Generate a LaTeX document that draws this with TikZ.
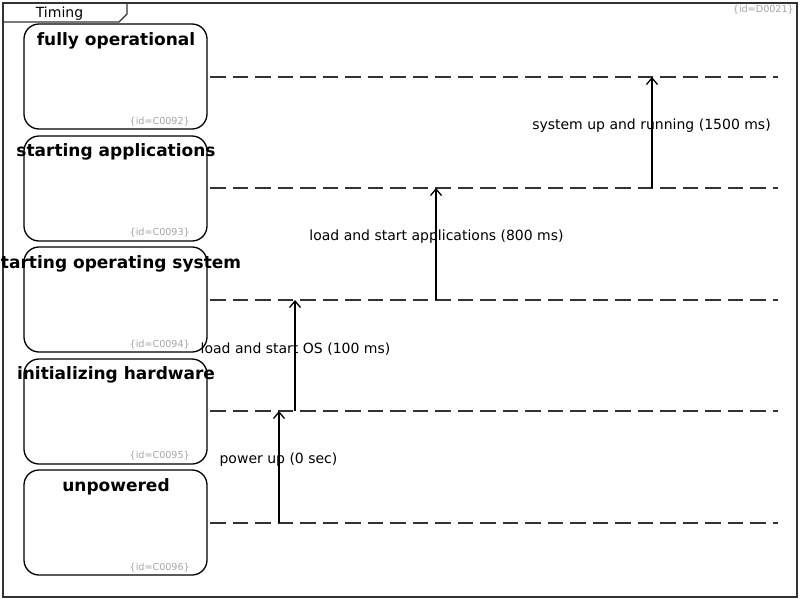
\documentclass[tikz,border=0pt]{standalone}
\usepackage{fontspec}
\setmainfont{DejaVu Sans}
\usetikzlibrary{arrows.meta}
\begin{document}
\begin{tikzpicture}[x=1pt,y=-1pt,
  frame/.style={draw=black!80, line width=1.3pt},
  statebox/.style={draw=black, line width=1.3pt, rounded corners=15pt, minimum width=183pt, minimum height=105pt, inner sep=0pt},
  title/.style={font=\bfseries\fontsize{17}{20}\selectfont, inner sep=0pt, anchor=base},
  idtext/.style={font=\fontsize{9.6}{11}\selectfont, text=black!35, inner sep=0pt, anchor=base east},
  level/.style={draw=black!80, line width=1.3pt, dash pattern=on 15.5pt off 7pt},
  trans/.style={draw=black, line width=1.3pt, -{Straight Barb[length=6.5pt,width=11pt]}},
  lbl/.style={font=\fontsize{14}{16}\selectfont, inner sep=0pt}]
\useasboundingbox (0,0) rectangle (800,600);
\fill[white] (0,0) rectangle (800,600);
% frame
\draw[frame] (3,3) rectangle (797,597);
\draw[frame] (3,22) -- (119,22) -- (127,14) -- (127,3);
\node[font=\fontsize{14}{16}\selectfont, inner sep=0pt, anchor=base] (tab) at (59.5,17) {Timing};
\node[idtext] (did) at (794,12.5) {\{id=D0021\}};
% states
\node[statebox] (s1) at (115.5,76.5) {};
\node[statebox] (s2) at (115.5,188.5) {};
\node[statebox] (s3) at (115.5,299.5) {};
\node[statebox] (s4) at (115.5,411.5) {};
\node[statebox] (s5) at (115.5,522.5) {};
\node[title] (t1) at (116,45) {fully operational};
\node[title] (t2) at (116,156) {starting applications};
\node[title] (t3) at (116,268) {starting operating system};
\node[title] (t4) at (116,379) {initializing hardware};
\node[title] (t5) at (116,491) {unpowered};
\node[idtext] (i1) at (190,124) {\{id=C0092\}};
\node[idtext] (i2) at (190,235) {\{id=C0093\}};
\node[idtext] (i3) at (190,347) {\{id=C0094\}};
\node[idtext] (i4) at (190,458) {\{id=C0095\}};
\node[idtext] (i5) at (190,570) {\{id=C0096\}};
% level lines
\coordinate (l1) at (210,77);  \coordinate (r1) at (778,77);
\coordinate (l2) at (210,188); \coordinate (r2) at (778,188);
\coordinate (l3) at (210,300); \coordinate (r3) at (778,300);
\coordinate (l4) at (210,411); \coordinate (r4) at (778,411);
\coordinate (l5) at (210,523); \coordinate (r5) at (778,523);
\draw[level] (l1) -- (r1);
\draw[level] (l2) -- (r2);
\draw[level] (l3) -- (r3);
\draw[level] (l4) -- (r4);
\draw[level] (l5) -- (r5);
% transitions
\coordinate (a1s) at (279,523); \coordinate (a1e) at (279,411);
\coordinate (a2s) at (295,411); \coordinate (a2e) at (295,300);
\coordinate (a3s) at (436,300); \coordinate (a3e) at (436,188);
\coordinate (a4s) at (652,188); \coordinate (a4e) at (652,77);
\draw[trans] (a1s) -- (a1e);
\draw[trans] (a2s) -- (a2e);
\draw[trans] (a3s) -- (a3e);
\draw[trans] (a4s) -- (a4e);
\node[lbl] (p1) at (278.5,460) {power up (0 sec)};
\node[lbl] (p2) at (295.5,349) {load and start OS (100 ms)};
\node[lbl] (p3) at (436.5,237) {load and start applications (800 ms)};
\node[lbl] (p4) at (651.5,126) {system up and running (1500 ms)};
\end{tikzpicture}
\end{document}
